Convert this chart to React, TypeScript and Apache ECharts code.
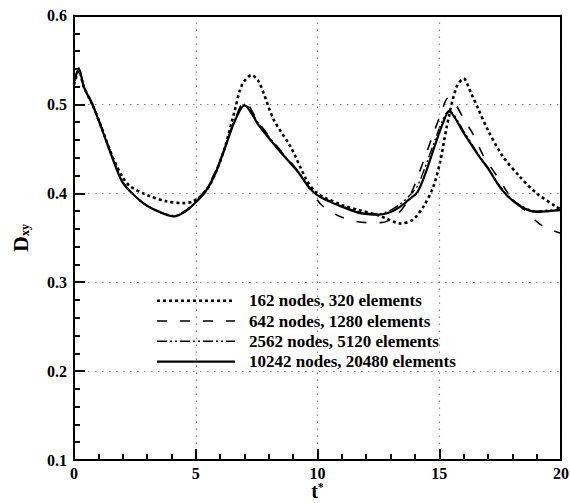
import React, { useEffect, useRef } from "react";
import * as echarts from "echarts";

const seriesNames = [
  "162 nodes, 320 elements",
  "642 nodes, 1280 elements",
  "2562 nodes, 5120 elements",
  "10242 nodes, 20480 elements",
];

// 162 nodes (dotted)
const t162 = [0, 0.2, 0.4, 0.8, 1.2, 1.6, 2.0, 2.3, 3.0, 3.8, 4.5, 4.9, 5.4, 5.8, 6.2, 6.6, 6.9, 7.3, 7.6, 8.2, 8.9, 9.55, 9.9, 10.3, 11.0, 11.7, 12.3, 12.8, 13.4, 13.9, 14.35, 14.75, 15.05, 15.3, 15.7, 16.0, 16.3, 16.6, 17.0, 17.6, 18.3, 19.0, 19.8, 20];
const d162 = [0.522, 0.538, 0.52, 0.497, 0.469, 0.44, 0.418, 0.408, 0.398, 0.391, 0.389, 0.391, 0.402, 0.422, 0.452, 0.493, 0.522, 0.533, 0.525, 0.483, 0.452, 0.415, 0.402, 0.395, 0.387, 0.381, 0.377, 0.372, 0.366, 0.37, 0.385, 0.407, 0.437, 0.474, 0.519, 0.529, 0.513, 0.495, 0.471, 0.442, 0.419, 0.4, 0.385, 0.382];

// 642 nodes (dashed)
const t642 = [0, 0.2, 0.4, 0.8, 1.2, 1.6, 2.0, 2.5, 3.0, 3.6, 4.1, 4.6, 5.0, 5.4, 5.8, 6.2, 6.6, 7.0, 7.6, 8.4, 9.2, 9.7, 10.2, 11.0, 12.0, 12.6, 13.1, 13.6, 14.0, 14.4, 14.8, 15.1, 15.35, 15.6, 16.0, 16.4, 16.8, 17.4, 17.8, 18.1, 18.5, 19.1, 19.5, 20];
const d642 = [0.525, 0.54, 0.521, 0.498, 0.469, 0.439, 0.413, 0.397, 0.386, 0.378, 0.375, 0.381, 0.391, 0.404, 0.424, 0.451, 0.482, 0.503, 0.479, 0.451, 0.425, 0.404, 0.386, 0.373, 0.367, 0.367, 0.372, 0.387, 0.41, 0.44, 0.47, 0.492, 0.507, 0.503, 0.484, 0.466, 0.443, 0.418, 0.401, 0.391, 0.381, 0.366, 0.36, 0.355];

// 2562 nodes (dash-dot-dot)
const t2562 = [0, 0.2, 0.4, 0.8, 1.2, 1.6, 2.0, 2.5, 3.0, 3.6, 4.1, 4.6, 5.0, 5.4, 5.8, 6.2, 6.6, 7.0, 7.6, 8.4, 9.2, 9.7, 10.1, 10.9, 11.7, 12.5, 13.0, 13.4, 13.8, 14.1, 14.4, 14.8, 15.15, 15.4, 16.0, 16.6, 17.0, 17.6, 18.3, 19.0, 19.5, 20];
const d2562 = [0.526, 0.541, 0.521, 0.498, 0.469, 0.439, 0.413, 0.397, 0.386, 0.378, 0.375, 0.38, 0.391, 0.403, 0.424, 0.452, 0.483, 0.5, 0.478, 0.45, 0.425, 0.406, 0.397, 0.387, 0.379, 0.377, 0.381, 0.388, 0.398, 0.408, 0.428, 0.458, 0.483, 0.493, 0.47, 0.444, 0.429, 0.404, 0.387, 0.38, 0.381, 0.382];

// 10242 nodes (solid)
const t10242 = [0, 0.2, 0.4, 0.8, 1.2, 1.6, 2.0, 2.5, 3.0, 3.6, 4.1, 4.6, 5.0, 5.4, 5.8, 6.2, 6.6, 7.0, 7.6, 8.4, 9.2, 9.7, 10.1, 10.9, 11.7, 12.5, 13.0, 13.4, 13.8, 14.1, 14.4, 14.8, 15.15, 15.4, 16.0, 16.6, 17.0, 17.6, 18.3, 19.0, 19.5, 20];
const d10242 = [0.525, 0.54, 0.52, 0.497, 0.468, 0.438, 0.412, 0.397, 0.386, 0.378, 0.374, 0.38, 0.39, 0.402, 0.422, 0.451, 0.481, 0.499, 0.476, 0.449, 0.424, 0.405, 0.396, 0.386, 0.378, 0.376, 0.379, 0.385, 0.394, 0.401, 0.42, 0.452, 0.479, 0.492, 0.468, 0.443, 0.428, 0.403, 0.386, 0.379, 0.38, 0.381];

const xMin = 0, xMax = 20, xStep = 5;
const yMin = 0.1, yMax = 0.6, yStep = 0.1;
const minorSplits = 5;

const xTitle = "t{sup|*}";
const yTitle = "D{sub|xy}";

const FONT = "'Liberation Serif', 'Times New Roman', serif";
const GRID = { left: 74, top: 15.5, right: 9, bottom: 43 };

const pairs = (t: number[], d: number[]) => t.map((v, i) => [v, d[i]]);

export default function App() {
  const ref = useRef<HTMLDivElement>(null);
  const ref2 = useRef<HTMLDivElement>(null);
  useEffect(() => {
    if (!ref.current || !ref2.current) return;
    const chart = echarts.init(ref.current, null, { renderer: "svg" });
    const overlay = echarts.init(ref2.current, null, { renderer: "svg" });
    const labelStyle = { fontFamily: FONT, fontWeight: "bold" as const, fontSize: 16, color: "#000" };
    const lineStyles = [
      { width: 2.6, type: [3, 3] as any },
      { width: 1.6, type: [10, 13] as any },
      { width: 1.4, type: [10, 3, 2, 3, 2, 3] as any },
      { width: 2.2, type: "solid" as any },
    ];
    const dataSets = [
      pairs(t162, d162),
      pairs(t642, d642),
      pairs(t2562, d2562),
      pairs(t10242, d10242),
    ];
    const mainAxis = {
      type: "value" as const,
      axisLine: { show: true, onZero: false, lineStyle: { color: "#000", width: 2 } },
      axisTick: { show: true, inside: true, length: 11, lineStyle: { color: "#000", width: 2 } },
      splitLine: { show: true, lineStyle: { color: "#888", width: 1.2, type: [1.5, 5.5] } },
      z: 10,
    };
    const rowY0 = 300.7, rowStep = 20.3;
    const legendGraphics: any[] = seriesNames.map((n, i) => ({
      type: "group",
      children: [
        {
          type: "line",
          shape: { x1: 157, y1: rowY0 + i * rowStep, x2: 235, y2: rowY0 + i * rowStep },
          style: {
            stroke: "#000",
            lineWidth: lineStyles[i].width,
            lineDash: Array.isArray(lineStyles[i].type) ? lineStyles[i].type : null,
            lineCap: "butt",
          },
        },
        {
          type: "text",
          x: 249,
          y: rowY0 + i * rowStep,
          style: {
            text: n,
            fontFamily: FONT,
            fontWeight: "bold",
            fontSize: 17,
            fill: "#000",
            verticalAlign: "middle",
            align: "left",
          },
        },
      ],
    }));
    const titleGraphics: any[] = [
      {
        type: "text",
        x: 317.5,
        y: 481,
        style: {
          text: xTitle,
          fontFamily: FONT, fontWeight: "bold", fontSize: 20, fill: "#000",
          align: "center", verticalAlign: "top",
          rich: {
            sup: { fontFamily: FONT, fontWeight: "bold", fontSize: 12, verticalAlign: "top", fill: "#000" },
          },
        },
      },
      {
        type: "text",
        x: 20,
        y: 238,
        rotation: Math.PI / 2,
        style: {
          text: yTitle,
          fontFamily: FONT, fontWeight: "bold", fontSize: 22, fill: "#000",
          align: "center", verticalAlign: "middle",
          rich: {
            sub: { fontFamily: FONT, fontWeight: "bold", fontSize: 12, verticalAlign: "bottom", fill: "#000" },
          },
        },
      },
    ];
    try {
      chart.setOption({
        animation: false,
        grid: { ...GRID, outerBoundsMode: "none" },
        graphic: [...legendGraphics, ...titleGraphics],
        xAxis: [
          {
            ...mainAxis,
            min: xMin, max: xMax, interval: xStep,
            position: "bottom",
            axisLabel: { ...labelStyle, margin: 5 },
          },
          {
            type: "value", min: xMin, max: xMax, position: "top", z: 20,
            axisLine: { show: true, onZero: false, lineStyle: { color: "#000", width: 2 } },
            axisTick: { show: false }, axisLabel: { show: false }, splitLine: { show: false },
          },
        ],
        yAxis: [
          {
            ...mainAxis,
            min: yMin, max: yMax, interval: yStep,
            position: "left",
            axisLabel: { ...labelStyle, margin: 7, formatter: (v: number) => v.toFixed(1) },
          },
        ],
        series: seriesNames.map((name, i) => ({
          name,
          type: "line",
          xAxisIndex: 0,
          yAxisIndex: 0,
          data: dataSets[i],
          symbol: "none",
          showSymbol: false,
          smooth: 0.3,
          z: 2 + i,
          lineStyle: { color: "#000", width: lineStyles[i].width, type: lineStyles[i].type, cap: "butt" },
          itemStyle: { color: "#000" },
        })),
      });
    } catch (e) {
      // keep whatever rendered
    }
    try {
      overlay.setOption({
        animation: false,
        backgroundColor: "transparent",
        grid: { ...GRID, outerBoundsMode: "none" },
        xAxis: [
          {
            type: "value", min: xMin, max: xMax, interval: xStep, position: "bottom",
            axisLine: { show: false, onZero: false },
            axisTick: { show: true, inside: true, length: 11, lineStyle: { color: "#000", width: 2 } },
            minorTick: { show: true, splitNumber: minorSplits, length: 6, lineStyle: { color: "#000", width: 2 } },
            axisLabel: { show: false },
            splitLine: { show: false },
          },
        ],
        yAxis: [
          {
            type: "value", min: yMin, max: yMax, interval: yStep, position: "left",
            axisLine: { show: false, onZero: false },
            axisTick: { show: true, inside: true, length: 11, lineStyle: { color: "#000", width: 2 } },
            minorTick: { show: true, splitNumber: minorSplits, length: 6, lineStyle: { color: "#000", width: 2 } },
            axisLabel: { show: false },
            splitLine: { show: false },
          },
          {
            type: "value", min: yMin, max: yMax, position: "right",
            axisLine: { show: true, onZero: false, lineStyle: { color: "#000", width: 2 } },
            axisTick: { show: false }, axisLabel: { show: false }, splitLine: { show: false },
          },
        ],
        series: [],
      });
    } catch (e) {
      // overlay is optional
    }
    return () => {
      chart.dispose();
      overlay.dispose();
    };
  }, []);
  return (
    <div style={{ position: "fixed", left: 0, top: 0, width: 570, height: 503, background: "#fff" }}>
      <div ref={ref} style={{ position: "absolute", left: 0, top: 0, width: 570, height: 503 }} />
      <div ref={ref2} style={{ position: "absolute", left: 0, top: 0, width: 570, height: 503, pointerEvents: "none" }} />
    </div>
  );
}
